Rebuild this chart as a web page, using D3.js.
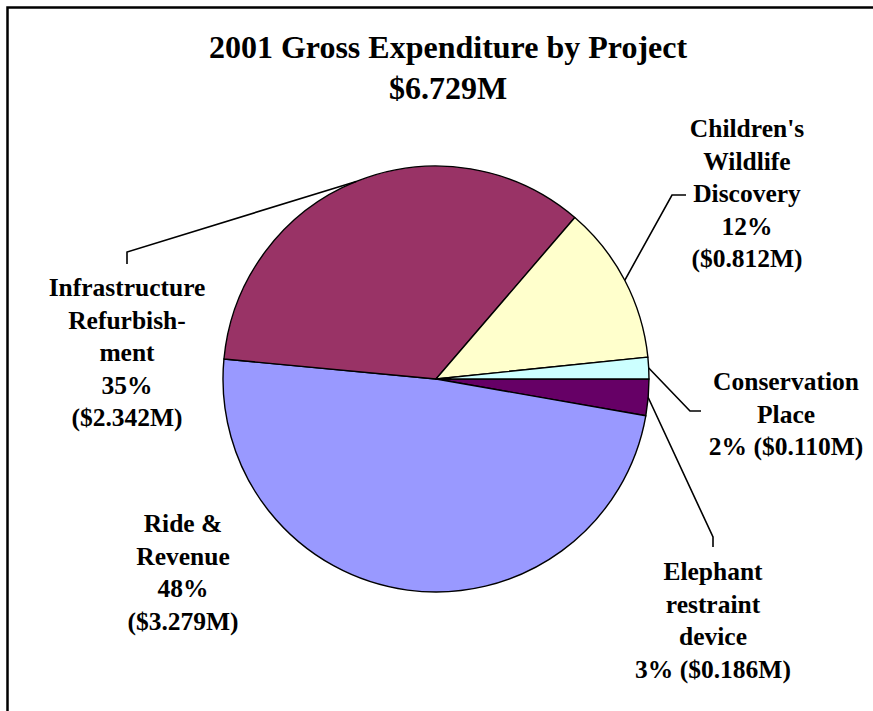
<!DOCTYPE html>
<html>
<head>
<meta charset="utf-8">
<script src="https://cdn.jsdelivr.net/npm/d3@7"></script>
<style>
  html, body { margin: 0; padding: 0; background: #fff; }
  svg { display: block; }
  text { font-family: "Liberation Serif", "Times New Roman", serif; font-weight: bold; fill: #000; }
</style>
</head>
<body>
<svg id="chart" width="873" height="711"></svg>
<script>
// Projects, in drawing order clockwise from 3 o'clock
const categories = ["Elephant restraint device", "Ride & Revenue", "Infrastructure Refurbishment", "Children's Wildlife Discovery", "Conservation Place"];
// Gross expenditure, $M
const values = [0.186, 3.279, 2.342, 0.812, 0.110];
// Percent text shown on each label
const percentLabels = ["3%", "48%", "35%", "12%", "2%"];
// How each project name breaks over lines in its label
const nameLines = [
  ["Elephant", "restraint", "device"],
  ["Ride &", "Revenue"],
  ["Infrastructure", "Refurbish-", "ment"],
  ["Children's", "Wildlife", "Discovery"],
  ["Conservation", "Place"]
];
const colors = ["#660066", "#9999FF", "#993366", "#FFFFCC", "#CCFFFF"];
const titleLines = ["2001 Gross Expenditure by Project", "$6.729M"];

// Label placement: centre x, first baseline y, whether % and $ share a line, leader elbow + end
const labelLayout = [
  { x: 713, y: 580, join: true,  leader: [[713, 537], [713, 547]] },
  { x: 183, y: 532, join: false, leader: null },
  { x: 127, y: 296, join: false, leader: [[127, 252], [127, 264]] },
  { x: 747, y: 137, join: false, leader: [[672, 195], [686, 195]] },
  { x: 786, y: 390, join: true,  leader: [[690, 411], [701, 411]] }
];

const svg = d3.select("#chart");
const cx = 436, cy = 379, radius = 213;
const lineHeight = 32.5;

// Outer frame (extends past the right and bottom of the page)
svg.append("rect")
  .attr("x", 7.5).attr("y", 7.5)
  .attr("width", 1000).attr("height", 1000)
  .attr("fill", "none").attr("stroke", "#000").attr("stroke-width", 2.5);

// Title
svg.append("text")
  .attr("x", 448).attr("y", 58)
  .attr("text-anchor", "middle")
  .attr("font-size", 32)
  .selectAll("tspan").data(titleLines).join("tspan")
  .attr("x", 448)
  .attr("dy", (d, i) => i === 0 ? 0 : 41)
  .text(d => d);

const data = categories.map((c, i) => ({
  name: c, value: values[i], pct: percentLabels[i], lines: nameLines[i],
  color: colors[i], layout: labelLayout[i]
}));

const pie = d3.pie()
  .value(d => d.value)
  .sort(null)
  .startAngle(Math.PI / 2)
  .endAngle(Math.PI / 2 + 2 * Math.PI);

const arc = d3.arc().innerRadius(0).outerRadius(radius);
const edge = d3.arc().innerRadius(radius).outerRadius(radius);

const arcs = pie(data);
const g = svg.append("g").attr("transform", `translate(${cx},${cy})`);

g.selectAll("path.slice").data(arcs).join("path")
  .attr("class", "slice")
  .attr("d", arc)
  .attr("fill", d => d.data.color)
  .attr("stroke", "#000")
  .attr("stroke-width", 1.4)
  .attr("stroke-linejoin", "round");

// Leader lines from slice edge midpoint to the label
const fmt = d3.format(".3f");
arcs.forEach(a => {
  const L = a.data.layout;
  if (L.leader) {
    const [ex, ey] = edge.centroid(a);
    const pts = [[cx + ex, cy + ey], ...L.leader];
    svg.append("path")
      .attr("d", d3.line()(pts))
      .attr("fill", "none")
      .attr("stroke", "#000")
      .attr("stroke-width", 1.6);
  }
  const money = `($${fmt(a.data.value)}M)`;
  const lines = a.data.lines.slice();
  if (L.join) lines.push(`${a.data.pct} ${money}`);
  else lines.push(a.data.pct, money);
  svg.append("text")
    .attr("text-anchor", "middle")
    .attr("font-size", 25.5)
    .selectAll("tspan").data(lines).join("tspan")
    .attr("x", L.x)
    .attr("y", (d, i) => L.y + i * lineHeight)
    .text(d => d);
});
</script>
</body>
</html>
